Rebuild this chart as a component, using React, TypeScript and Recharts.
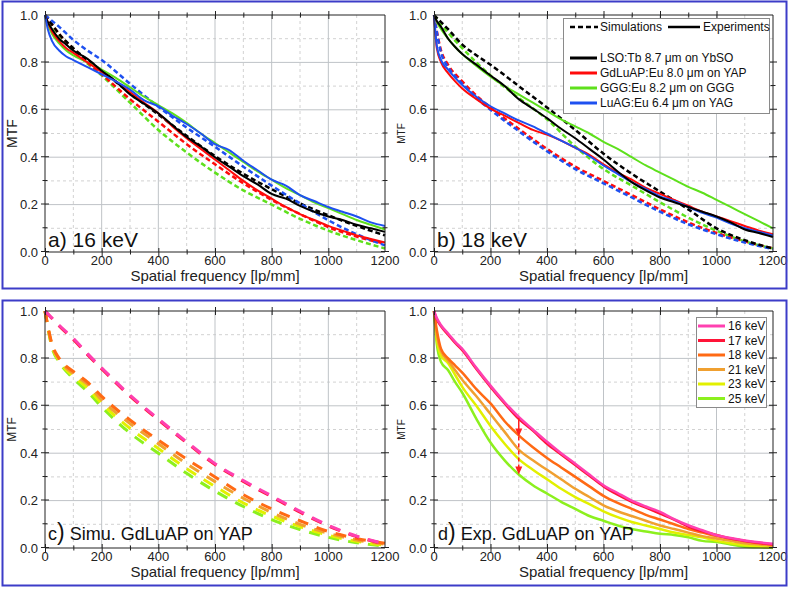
import React from "react";
import { Line, LineChart, ReferenceLine, XAxis, YAxis } from "recharts";

const FONT = '"Liberation Sans", Arial, sans-serif';
const AXIS = "#222222";

// sampling grids (lp/mm)
const FREQ_SIM = [0, 25, 50, 100, 150, 200, 300, 400, 500, 600, 700, 800, 900, 1000, 1100, 1200];
const FREQ_EXP = [
  0, 10, 25, 50, 75, 100, 150, 200, 250, 300, 350, 400, 450, 500, 550, 600, 650, 700, 750, 800,
  850, 900, 950, 1000, 1050, 1100, 1150, 1200,
];

const X_TICKS = [0, 100, 200, 300, 400, 500, 600, 700, 800, 900, 1000, 1100, 1200];
const Y_TICKS = [0, 0.1, 0.2, 0.3, 0.4, 0.5, 0.6, 0.7, 0.8, 0.9, 1.0];
const X_MAJOR = [200, 400, 600, 800, 1000];
const X_MINOR = [100, 300, 500, 700, 900, 1100];
const Y_MAJOR = [0.2, 0.4, 0.6, 0.8];
const Y_MINOR = [0.1, 0.3, 0.5, 0.7, 0.9];

// a) 16 keV
const a16LsoExp = [1.0, 0.97, 0.94, 0.9, 0.875, 0.85, 0.815, 0.765, 0.72, 0.665, 0.625, 0.585, 0.535, 0.485, 0.445, 0.4, 0.36, 0.32, 0.285, 0.245, 0.225, 0.195, 0.17, 0.15, 0.135, 0.115, 0.1, 0.085];
const a16GdlExp = [1.0, 0.97, 0.93, 0.89, 0.86, 0.84, 0.8, 0.76, 0.72, 0.675, 0.63, 0.585, 0.53, 0.48, 0.435, 0.39, 0.345, 0.3, 0.26, 0.225, 0.19, 0.16, 0.135, 0.11, 0.09, 0.07, 0.055, 0.04];
const a16GggExp = [1.0, 0.96, 0.92, 0.88, 0.85, 0.83, 0.8, 0.77, 0.735, 0.695, 0.655, 0.62, 0.585, 0.545, 0.5, 0.46, 0.42, 0.38, 0.34, 0.305, 0.27, 0.24, 0.21, 0.185, 0.16, 0.135, 0.115, 0.095];
const a16LuagExp = [1.0, 0.94, 0.89, 0.85, 0.825, 0.81, 0.78, 0.75, 0.72, 0.685, 0.64, 0.615, 0.575, 0.54, 0.5, 0.455, 0.43, 0.385, 0.345, 0.305, 0.28, 0.24, 0.215, 0.19, 0.17, 0.15, 0.125, 0.11];
const a16LsoSim = [1.0, 0.96, 0.92, 0.86, 0.81, 0.765, 0.67, 0.58, 0.49, 0.405, 0.33, 0.265, 0.205, 0.155, 0.11, 0.07];
const a16GdlSim = [1.0, 0.96, 0.92, 0.855, 0.8, 0.75, 0.645, 0.55, 0.455, 0.37, 0.29, 0.22, 0.16, 0.105, 0.065, 0.035];
const a16GggSim = [1.0, 0.955, 0.915, 0.85, 0.795, 0.745, 0.63, 0.515, 0.42, 0.335, 0.26, 0.2, 0.14, 0.09, 0.05, 0.015];
const a16LuagSim = [1.0, 0.975, 0.95, 0.895, 0.85, 0.81, 0.71, 0.613, 0.525, 0.444, 0.36, 0.28, 0.205, 0.134, 0.075, 0.028];

// b) 18 keV
const b18LsoExp = [1.0, 0.975, 0.95, 0.9, 0.865, 0.835, 0.79, 0.745, 0.7, 0.645, 0.605, 0.565, 0.52, 0.48, 0.435, 0.39, 0.34, 0.295, 0.26, 0.23, 0.21, 0.19, 0.17, 0.15, 0.125, 0.095, 0.08, 0.063];
const b18GdlExp = [1.0, 0.86, 0.8, 0.755, 0.72, 0.69, 0.645, 0.605, 0.575, 0.545, 0.515, 0.495, 0.47, 0.44, 0.41, 0.37, 0.335, 0.305, 0.27, 0.245, 0.22, 0.195, 0.17, 0.15, 0.13, 0.11, 0.09, 0.075];
const b18GggExp = [1.0, 0.97, 0.94, 0.9, 0.865, 0.835, 0.785, 0.74, 0.7, 0.665, 0.63, 0.595, 0.56, 0.53, 0.5, 0.465, 0.435, 0.4, 0.365, 0.335, 0.305, 0.275, 0.25, 0.22, 0.19, 0.16, 0.13, 0.1];
const b18LuagExp = [1.0, 0.87, 0.81, 0.77, 0.735, 0.705, 0.655, 0.615, 0.585, 0.555, 0.53, 0.5, 0.47, 0.44, 0.405, 0.365, 0.33, 0.295, 0.265, 0.235, 0.215, 0.19, 0.165, 0.145, 0.12, 0.1, 0.085, 0.07];
const b18LsoSim = [1.0, 0.97, 0.94, 0.875, 0.83, 0.79, 0.7, 0.61, 0.515, 0.415, 0.33, 0.255, 0.18, 0.1, 0.05, 0.015];
const b18GdlSim = [1.0, 0.85, 0.79, 0.72, 0.66, 0.61, 0.52, 0.435, 0.36, 0.3, 0.24, 0.18, 0.125, 0.08, 0.045, 0.015];
const b18GggSim = [1.0, 0.96, 0.925, 0.86, 0.8, 0.745, 0.65, 0.56, 0.445, 0.35, 0.28, 0.21, 0.145, 0.09, 0.045, 0.015];
const b18LuagSim = [1.0, 0.84, 0.78, 0.71, 0.65, 0.6, 0.51, 0.425, 0.35, 0.29, 0.23, 0.17, 0.117, 0.075, 0.04, 0.012];

// c) simulations, GdLuAP on YAP
const c16 = [1.0, 0.97, 0.94, 0.885, 0.82, 0.76, 0.645, 0.545, 0.448, 0.356, 0.285, 0.22, 0.155, 0.096, 0.05, 0.018];
const c17 = [1.0, 0.968, 0.937, 0.88, 0.816, 0.756, 0.641, 0.541, 0.444, 0.352, 0.281, 0.216, 0.151, 0.093, 0.048, 0.017];
const c18 = [1.0, 0.86, 0.8, 0.745, 0.7, 0.64, 0.54, 0.455, 0.375, 0.3, 0.225, 0.165, 0.115, 0.07, 0.04, 0.02];
const c21 = [1.0, 0.855, 0.795, 0.735, 0.69, 0.625, 0.525, 0.44, 0.355, 0.28, 0.21, 0.15, 0.1, 0.062, 0.034, 0.016];
const c23 = [1.0, 0.85, 0.79, 0.725, 0.675, 0.61, 0.505, 0.42, 0.335, 0.26, 0.19, 0.135, 0.09, 0.054, 0.028, 0.012];
const c25 = [1.0, 0.845, 0.785, 0.715, 0.66, 0.595, 0.485, 0.4, 0.315, 0.24, 0.175, 0.12, 0.078, 0.045, 0.022, 0.008];

// d) experiments, GdLuAP on YAP
const d16 = [1.0, 0.97, 0.94, 0.905, 0.87, 0.84, 0.76, 0.685, 0.615, 0.553, 0.5, 0.448, 0.4, 0.356, 0.31, 0.265, 0.232, 0.2, 0.175, 0.152, 0.122, 0.096, 0.075, 0.054, 0.042, 0.032, 0.024, 0.018];
const d17 = [1.0, 0.965, 0.935, 0.9, 0.865, 0.835, 0.755, 0.68, 0.61, 0.545, 0.495, 0.44, 0.395, 0.35, 0.305, 0.26, 0.225, 0.195, 0.17, 0.145, 0.12, 0.09, 0.07, 0.055, 0.04, 0.03, 0.022, 0.015];
const d18 = [1.0, 0.92, 0.84, 0.8, 0.77, 0.74, 0.67, 0.61, 0.535, 0.475, 0.425, 0.38, 0.34, 0.3, 0.26, 0.22, 0.19, 0.165, 0.14, 0.12, 0.1, 0.08, 0.065, 0.05, 0.04, 0.03, 0.02, 0.015];
const d21 = [1.0, 0.9, 0.83, 0.79, 0.75, 0.71, 0.64, 0.565, 0.49, 0.415, 0.37, 0.33, 0.29, 0.25, 0.215, 0.18, 0.155, 0.135, 0.115, 0.095, 0.08, 0.065, 0.05, 0.04, 0.03, 0.02, 0.015, 0.01];
const d23 = [1.0, 0.88, 0.81, 0.78, 0.73, 0.68, 0.6, 0.515, 0.44, 0.375, 0.33, 0.29, 0.25, 0.215, 0.185, 0.155, 0.13, 0.11, 0.095, 0.08, 0.065, 0.055, 0.045, 0.03, 0.02, 0.012, 0.006, 0.003];
const d25 = [1.0, 0.86, 0.785, 0.75, 0.7, 0.655, 0.545, 0.445, 0.37, 0.31, 0.265, 0.23, 0.195, 0.165, 0.135, 0.115, 0.095, 0.08, 0.07, 0.06, 0.055, 0.045, 0.03, 0.025, 0.015, 0.005, 0.003, 0.0];

// arrow in d): from 16 keV down to 18 keV, then dashed to 25 keV
const ARROW_F = 300;
const ARROW_MTF = [0.55, 0.47, 0.31];

const SAMPLES = ["LSO:Tb 8.7 μm on YbSO", "GdLuAP:Eu 8.0 μm on YAP", "GGG:Eu 8.2 μm on GGG", "LuAG:Eu 6.4 μm on YAG"];
const SAMPLE_COLORS = ["#000000", "#ff0a0a", "#5ee01c", "#1e50f0"];
const ENERGIES = ["16 keV", "17 keV", "18 keV", "21 keV", "23 keV", "25 keV"];
const ENERGY_COLORS = ["#ff40b0", "#ff1438", "#ff6a14", "#f0a030", "#e2f000", "#8cf01e"];

type Series = { id: string; color: string; freq: number[]; mtf: number[]; dash?: string; width: number };

const pts = (freq: number[], mtf: number[]) => freq.map((f, i) => ({ f, v: mtf[i] }));

const SIM_DASH = "5 3";

const seriesA: Series[] = [
  { id: "ggg-sim", color: SAMPLE_COLORS[2], freq: FREQ_SIM, mtf: a16GggSim, dash: SIM_DASH, width: 2.5 },
  { id: "gdl-sim", color: SAMPLE_COLORS[1], freq: FREQ_SIM, mtf: a16GdlSim, dash: SIM_DASH, width: 2.5 },
  { id: "lso-sim", color: SAMPLE_COLORS[0], freq: FREQ_SIM, mtf: a16LsoSim, dash: SIM_DASH, width: 2.5 },
  { id: "luag-sim", color: SAMPLE_COLORS[3], freq: FREQ_SIM, mtf: a16LuagSim, dash: SIM_DASH, width: 2.5 },
  { id: "ggg-exp", color: SAMPLE_COLORS[2], freq: FREQ_EXP, mtf: a16GggExp, width: 2 },
  { id: "gdl-exp", color: SAMPLE_COLORS[1], freq: FREQ_EXP, mtf: a16GdlExp, width: 2 },
  { id: "lso-exp", color: SAMPLE_COLORS[0], freq: FREQ_EXP, mtf: a16LsoExp, width: 2 },
  { id: "luag-exp", color: SAMPLE_COLORS[3], freq: FREQ_EXP, mtf: a16LuagExp, width: 2 },
];

const seriesB: Series[] = [
  { id: "ggg-sim", color: SAMPLE_COLORS[2], freq: FREQ_SIM, mtf: b18GggSim, dash: SIM_DASH, width: 2.5 },
  { id: "gdl-sim", color: SAMPLE_COLORS[1], freq: FREQ_SIM, mtf: b18GdlSim, dash: SIM_DASH, width: 2.5 },
  { id: "luag-sim", color: SAMPLE_COLORS[3], freq: FREQ_SIM, mtf: b18LuagSim, dash: SIM_DASH, width: 2.5 },
  { id: "lso-sim", color: SAMPLE_COLORS[0], freq: FREQ_SIM, mtf: b18LsoSim, dash: SIM_DASH, width: 2.5 },
  { id: "ggg-exp", color: SAMPLE_COLORS[2], freq: FREQ_EXP, mtf: b18GggExp, width: 2 },
  { id: "gdl-exp", color: SAMPLE_COLORS[1], freq: FREQ_EXP, mtf: b18GdlExp, width: 2 },
  { id: "luag-exp", color: SAMPLE_COLORS[3], freq: FREQ_EXP, mtf: b18LuagExp, width: 2 },
  { id: "lso-exp", color: SAMPLE_COLORS[0], freq: FREQ_EXP, mtf: b18LsoExp, width: 2 },
];

const seriesC: Series[] = [c25, c23, c21, c18, c17, c16].map((mtf, i) => ({
  id: "c" + i,
  color: ENERGY_COLORS[5 - i],
  freq: FREQ_SIM,
  mtf,
  dash: "11 9",
  width: 3,
}));

const seriesD: Series[] = [d25, d23, d21, d18, d17, d16].map((mtf, i) => ({
  id: "d" + i,
  color: ENERGY_COLORS[5 - i],
  freq: FREQ_EXP,
  mtf,
  width: 2.5,
}));

const isMajorX = (v: number) => Math.round(v) % 200 === 0;
const isMajorY = (v: number) => Math.round(v * 10) % 2 === 0;

function BottomLabel(props: any) {
  const { x, y, payload } = props;
  const v = Number(payload.value);
  if (!isMajorX(v)) return <g />;
  return (
    <text x={x} y={y + 4} dy="0.71em" textAnchor="middle" fontSize={13} fill={AXIS}>
      {v}
    </text>
  );
}

function LeftLabel(props: any) {
  const { x, y, payload } = props;
  const v = Number(payload.value);
  if (!isMajorY(v)) return <g />;
  return (
    <text x={x - 7} y={y} dy="0.35em" textAnchor="end" fontSize={13} fill={AXIS}>
      {v.toFixed(1)}
    </text>
  );
}

const X_MAX = 1200;
const PLOT_H = 237;

// straight helper line through the chart's scales (grid, frame, tick rows)
function guide(key: string, data: { f: number; v: number }[], stroke: string, width: number, dash?: string) {
  return (
    <Line
      key={key}
      data={data}
      dataKey="v"
      type="linear"
      stroke={stroke}
      strokeWidth={width}
      strokeDasharray={dash}
      dot={false}
      activeDot={false}
      isAnimationActive={false}
    />
  );
}

type PanelProps = {
  left: number;
  top: number;
  width: number;
  rightMargin: number;
  series: Series[];
  mtfSize: number;
  children?: React.ReactNode;
};

function Panel({ left, top, width, rightMargin, series, mtfSize, children }: PanelProps) {
  const plotW = width - 45 - rightMargin;
  const xDash = `1 ${plotW / 6 - 1}`;
  const yDash = `1 ${PLOT_H / 5 - 1}`;
  return (
    <div style={{ position: "absolute", left, top }}>
      <LineChart
        width={width}
        height={290}
        margin={{ top: 15, right: rightMargin, bottom: 0, left: 0 }}
        style={{ fontFamily: FONT }}
      >
        <XAxis
          type="number"
          dataKey="f"
          domain={[0, X_MAX]}
          ticks={X_TICKS}
          interval={0}
          height={38}
          tickSize={0}
          tickMargin={0}
          tickLine={false}
          tick={BottomLabel}
          axisLine={{ stroke: AXIS }}
          label={{ value: "Spatial frequency [lp/mm]", position: "insideBottom", offset: 9, fill: AXIS, fontSize: 15 }}
        />
        <YAxis
          type="number"
          domain={[0, 1]}
          ticks={Y_TICKS}
          interval={0}
          width={45}
          tickSize={0}
          tickMargin={0}
          tickLine={false}
          tick={LeftLabel}
          axisLine={{ stroke: AXIS }}
          label={{
            content: (p: any) => {
              const vb = p.viewBox;
              const cx = vb.x + 12;
              const cy = vb.y + vb.height / 2;
              return (
                <text
                  x={cx}
                  y={cy}
                  dy="0.35em"
                  textAnchor="middle"
                  fontSize={mtfSize}
                  fill={AXIS}
                  transform={`rotate(-90 ${cx} ${cy})`}
                >
                  MTF
                </text>
              );
            },
          }}
        />
        {X_MINOR.map((v) => guide("gx" + v, [{ f: v, v: 0 }, { f: v, v: 1 }], "#d2d2d2", 1, "3 3"))}
        {Y_MINOR.map((v) => guide("gy" + v, [{ f: 0, v }, { f: X_MAX, v }], "#d2d2d2", 1, "3 3"))}
        {X_MAJOR.map((v) => guide("Gx" + v, [{ f: v, v: 0 }, { f: v, v: 1 }], "#bfc3c7", 1))}
        {Y_MAJOR.map((v) => guide("Gy" + v, [{ f: 0, v }, { f: X_MAX, v }], "#bfc3c7", 1))}
        {series.map((s) => (
          <Line
            key={s.id}
            data={pts(s.freq, s.mtf)}
            dataKey="v"
            type="monotone"
            stroke={s.color}
            strokeWidth={s.width}
            strokeDasharray={s.dash}
            dot={false}
            activeDot={false}
            isAnimationActive={false}
          />
        ))}
        {/* frame top / right */}
        {guide("frame-top", [{ f: 0, v: 1 }, { f: X_MAX, v: 1 }], AXIS, 1)}
        {guide("frame-right", [{ f: X_MAX, v: 0 }, { f: X_MAX, v: 1 }], AXIS, 1)}
        {/* tick rows on all four sides */}
        {[0, 1].map((edge) => guide("tM" + edge, [{ f: 0, v: edge }, { f: X_MAX, v: edge }], AXIS, 8, xDash))}
        {[0, 1].map((edge) => guide("tm" + edge, [{ f: 100, v: edge }, { f: 1100, v: edge }], AXIS, 5, xDash))}
        {[0, X_MAX].map((edge) => guide("yM" + edge, [{ f: edge, v: 0 }, { f: edge, v: 1 }], AXIS, 8, yDash))}
        {[0, X_MAX].map((edge) => guide("ym" + edge, [{ f: edge, v: 0.1 }, { f: edge, v: 0.9 }], AXIS, 5, yDash))}
        {children}
      </LineChart>
    </div>
  );
}

function arrowShape(dashed: boolean) {
  return function Arrow(props: any) {
    const { x1, y1, x2, y2 } = props;
    return (
      <g>
        <line x1={x1} y1={y1} x2={x2} y2={y2 - 4} stroke="#ff2020" strokeWidth={1.5} strokeDasharray={dashed ? "4 3" : undefined} />
        <polygon points={`${x2 - 3.5},${y2 - 8} ${x2 + 3.5},${y2 - 8} ${x2},${y2}`} fill="#ff2020" />
      </g>
    );
  };
}

function Overlay() {
  const t = { fontFamily: FONT, fill: "#111" };
  return (
    <svg width={791} height={591} style={{ position: "absolute", left: 0, top: 0, pointerEvents: "none" }}>
      <rect x={2.5} y={1.5} width={784} height={287} fill="none" stroke="#3c3cc8" strokeWidth={2} />
      <rect x={2.5} y={300.5} width={784} height={285} fill="none" stroke="#3c3cc8" strokeWidth={2} />

      {/* panel b legend */}
      <rect x={563.5} y={18.5} width={206} height={95} fill="#fff" stroke="#8a8a8a" />
      <line x1={570} x2={598} y1={27} y2={27} stroke="#000" strokeWidth={2.5} strokeDasharray={SIM_DASH} />
      <text x={600} y={31} fontSize={12} {...t}>Simulations</text>
      <line x1={668} x2={700} y1={27} y2={27} stroke="#000" strokeWidth={2.5} />
      <text x={703} y={31} fontSize={12} {...t}>Experiments</text>
      {SAMPLES.map((s, i) => (
        <g key={s}>
          <line x1={570} x2={597} y1={58 + 15 * i} y2={58 + 15 * i} stroke={SAMPLE_COLORS[i]} strokeWidth={3} />
          <text x={600} y={62 + 15 * i} fontSize={12} {...t}>{s}</text>
        </g>
      ))}

      {/* panel d legend */}
      <rect x={696.5} y={317.5} width={70} height={90} fill="#fff" stroke="#8a8a8a" />
      {ENERGIES.map((e, i) => (
        <g key={e}>
          <line x1={698} x2={725} y1={326 + 14.5 * i} y2={326 + 14.5 * i} stroke={ENERGY_COLORS[i]} strokeWidth={3} />
          <text x={728} y={330 + 14.5 * i} fontSize={12} {...t}>{e}</text>
        </g>
      ))}

      <text x={48} y={247} fontSize={21} {...t}>a) 16 keV</text>
      <text x={437} y={247} fontSize={21} {...t}>b) 18 keV</text>
      <text x={48} y={540} fontSize={18} {...t}>
        c<tspan fontSize={23}>)</tspan> Simu. GdLuAP on YAP
      </text>
      <text x={438} y={540} fontSize={18} {...t}>
        d<tspan fontSize={23}>)</tspan> Exp. GdLuAP on YAP
      </text>
    </svg>
  );
}

export default function App() {
  return (
    <div style={{ position: "absolute", left: 0, top: 0, width: 791, height: 591, background: "#fff", fontFamily: FONT }}>
      <Panel left={0} top={0} width={405} rightMargin={20} series={seriesA} mtfSize={14} />
      <Panel left={389} top={0} width={402} rightMargin={18} series={seriesB} mtfSize={10} />
      <Panel left={0} top={296} width={405} rightMargin={20} series={seriesC} mtfSize={12} />
      <Panel left={389} top={296} width={402} rightMargin={18} series={seriesD} mtfSize={10}>
        <ReferenceLine
          segment={[{ x: ARROW_F, y: ARROW_MTF[0] }, { x: ARROW_F, y: ARROW_MTF[1] }]}
          shape={arrowShape(false)}
        />
        <ReferenceLine
          segment={[{ x: ARROW_F, y: ARROW_MTF[1] }, { x: ARROW_F, y: ARROW_MTF[2] }]}
          shape={arrowShape(true)}
        />
      </Panel>
      <Overlay />
    </div>
  );
}
